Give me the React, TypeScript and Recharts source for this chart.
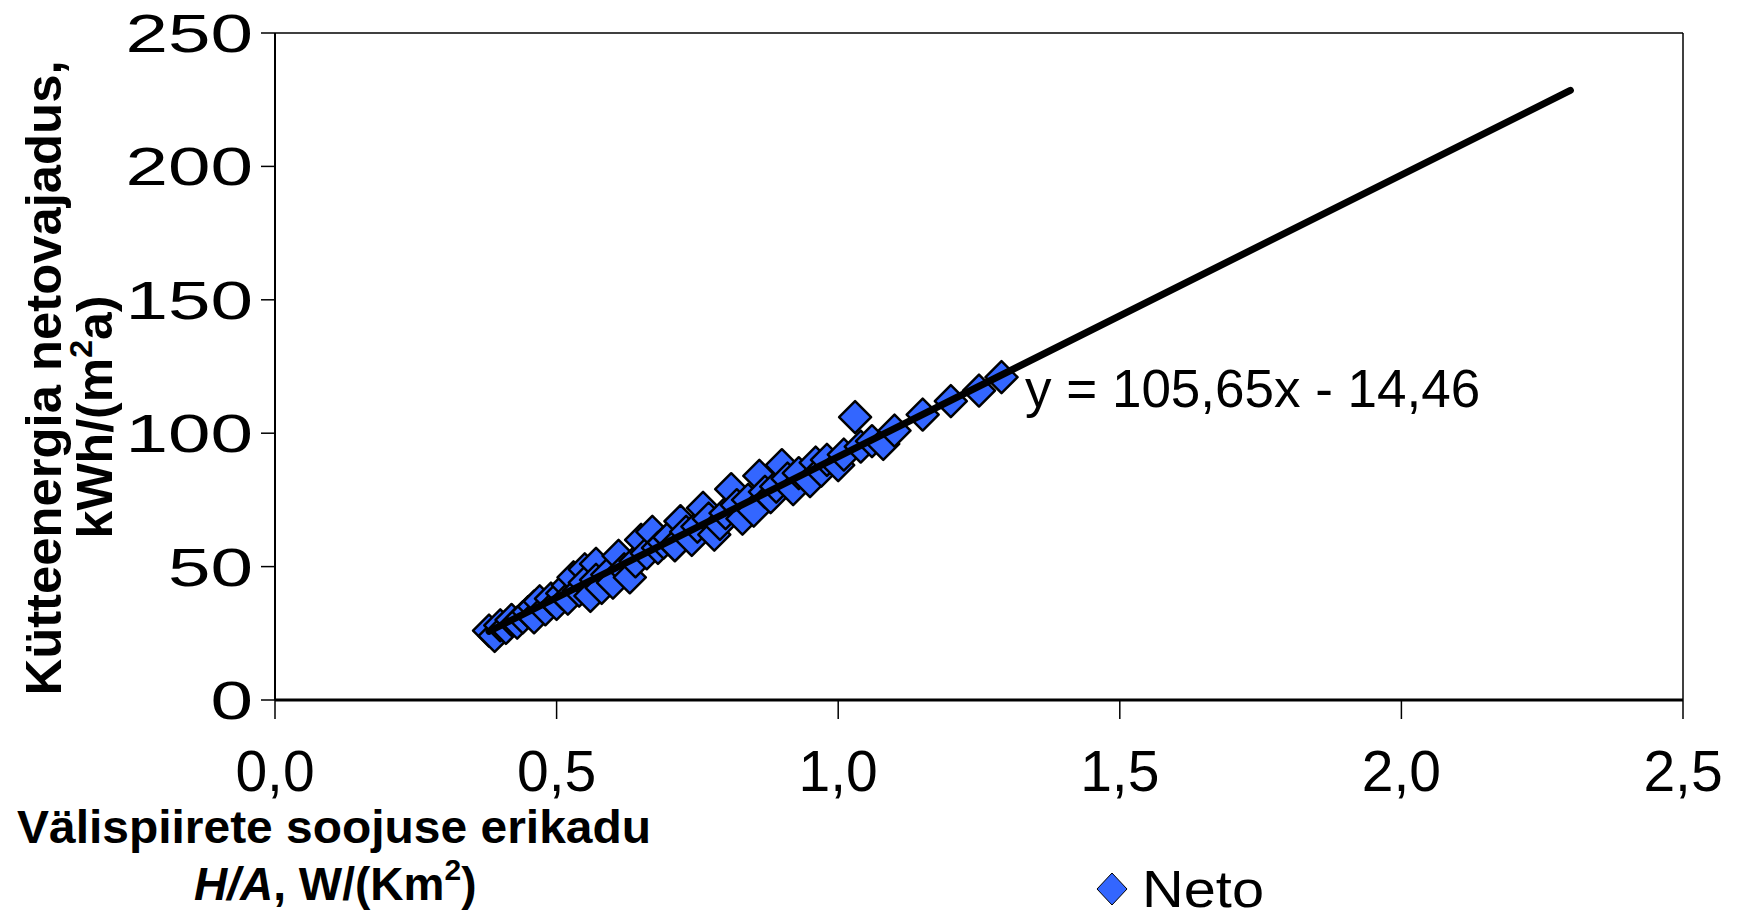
import { ScatterChart, Scatter, XAxis, YAxis, ReferenceLine, Legend } from 'recharts';

// mõõtepunktid (H/A, netovajadus)
const netoX = [
  0.38, 0.39, 0.4, 0.41, 0.42, 0.43, 0.44, 0.45, 0.46, 0.46, 0.47, 0.48, 0.49, 0.5, 0.51, 0.52, 0.52, 0.53,
  0.54, 0.55, 0.55, 0.56, 0.57, 0.57, 0.58, 0.59, 0.6, 0.61, 0.62, 0.63, 0.64, 0.65, 0.66, 0.67, 0.68, 0.69,
  0.7, 0.71, 0.72, 0.73, 0.74, 0.75, 0.76, 0.77, 0.78, 0.79, 0.8, 0.81, 0.82, 0.83, 0.84, 0.85, 0.86, 0.87,
  0.88, 0.89, 0.9, 0.91, 0.92, 0.93, 0.95, 0.96, 0.97, 0.98, 1.0, 1.01, 1.03, 1.04, 1.06, 1.08, 1.1, 1.15,
  1.2, 1.25, 1.29,
];
const netoY = [
  26, 24, 28, 27, 30, 29, 31, 33, 35, 31, 37, 34, 38, 36, 40, 43, 38, 46,
  41, 49, 44, 39, 51, 45, 42, 47, 44, 54, 49, 46, 52, 60, 55, 63, 57, 59,
  61, 58, 67, 63, 60, 65, 72, 68, 62, 66, 70, 79, 73, 68, 75, 71, 84, 78,
  76, 80, 88, 83, 79, 85, 82, 89, 86, 90, 88, 92, 106, 95, 97, 96, 101, 107,
  112, 116, 121,
];

// trendijoon y = 105,65x - 14,46
const trendX = [0.38, 2.3];
const trendY = [25.7, 228.5];

const xTicks = [0, 0.5, 1, 1.5, 2, 2.5];
const yTicks = [0, 50, 100, 150, 200, 250];

const points = netoX.map((x, i) => ({ x, y: netoY[i] }));
const trend = trendX.map((x, i) => ({ x, y: trendY[i] }));

const FONT = '"Liberation Sans", Arial, sans-serif';
const BLUE = '#3366FF';

const Diamond = (props: any) => {
  const { cx, cy } = props;
  const r = 16;
  return (
    <path
      d={`M${cx},${cy - r}L${cx + r},${cy}L${cx},${cy + r}L${cx - r},${cy}Z`}
      fill={BLUE}
      stroke="#000"
      strokeWidth={2.5}
      strokeLinejoin="round"
    />
  );
};

const YTick = (props: any) => {
  const { x, y, payload } = props;
  const s = String(payload.value);
  return (
    <text
      x={x}
      y={y + 19}
      textAnchor="end"
      fontFamily={FONT}
      fontSize={53}
      fill="#000"
      textLength={42.5 * s.length}
      lengthAdjust="spacingAndGlyphs"
    >
      {s}
    </text>
  );
};

const XTick = (props: any) => {
  const { x, y, payload } = props;
  return (
    <text x={x} y={y + 72} textAnchor="middle" fontFamily={FONT} fontSize={57} fill="#000">
      {payload.value.toFixed(1).replace('.', ',')}
    </text>
  );
};

const NetoLegend = () => (
  <svg width={200} height={60}>
    <path d="M17,13L32,29L17,45L2,29Z" fill={BLUE} stroke="#000" strokeWidth={1} />
    <text x={47} y={47} fontFamily={FONT} fontSize={52} fill="#000" textLength={122} lengthAdjust="spacingAndGlyphs">
      Neto
    </text>
  </svg>
);

export default function App() {
  return (
    <div style={{ position: 'absolute', left: 0, top: 0, width: 1738, height: 915, background: '#fff' }}>
      <ScatterChart width={1738} height={915} margin={{ top: 33, right: 55, left: 0, bottom: 0 }}>
        <XAxis
          type="number"
          dataKey="x"
          domain={[0, 2.5]}
          ticks={xTicks}
          height={155}
          tickSize={19}
          tickMargin={0}
          tick={<XTick />}
          axisLine={{ stroke: '#000', strokeWidth: 3 }}
          tickLine={{ stroke: '#000', strokeWidth: 1.5 }}
          allowDataOverflow
        />
        <YAxis
          type="number"
          dataKey="y"
          domain={[0, 250]}
          ticks={yTicks}
          width={275}
          tickSize={14}
          tickMargin={8}
          tick={<YTick />}
          axisLine={{ stroke: '#000', strokeWidth: 2 }}
          tickLine={{ stroke: '#000', strokeWidth: 1.5 }}
          allowDataOverflow
        />
        <ReferenceLine y={250} stroke="#000" strokeWidth={1.5} />
        <ReferenceLine x={2.5} stroke="#000" strokeWidth={1.5} />
        <Scatter name="Neto" data={points} shape={<Diamond />} isAnimationActive={false} />
        <Scatter
          data={trend}
          line={{ stroke: '#000', strokeWidth: 7, strokeLinecap: 'round' }}
          shape={() => <g />}
          legendType="none"
          isAnimationActive={false}
        />
        <Legend
          content={<NetoLegend />}
          wrapperStyle={{ position: 'absolute', left: 1095, top: 860, width: 200, height: 60 }}
        />
      </ScatterChart>
      <svg
        width={1738}
        height={915}
        style={{ position: 'absolute', left: 0, top: 0, pointerEvents: 'none' }}
        fontFamily={FONT}
      >
        <text
          x={61}
          y={378}
          transform="rotate(-90, 61, 378)"
          textAnchor="middle"
          fontSize={50}
          fontWeight="bold"
          textLength={635}
          lengthAdjust="spacingAndGlyphs"
        >
          Kütteenergia netovajadus,
        </text>
        <text x={112} y={417} transform="rotate(-90, 112, 417)" textAnchor="middle" fontSize={50} fontWeight="bold">
          kWh/(m<tspan fontSize={32} dy={-20}>2</tspan>
          <tspan dy={20}>a)</tspan>
        </text>
        <text x={17} y={843} fontSize={46} fontWeight="bold" textLength={634} lengthAdjust="spacingAndGlyphs">
          Välispiirete soojuse erikadu
        </text>
        <text x={194} y={900} fontSize={46} fontWeight="bold">
          <tspan fontStyle="italic">H/A</tspan>, W/(Km<tspan fontSize={30} dy={-20}>2</tspan>
          <tspan dy={20}>)</tspan>
        </text>
        <text x={1025} y={407} fontSize={53}>
          y = 105,65x - 14,46
        </text>
      </svg>
    </div>
  );
}
